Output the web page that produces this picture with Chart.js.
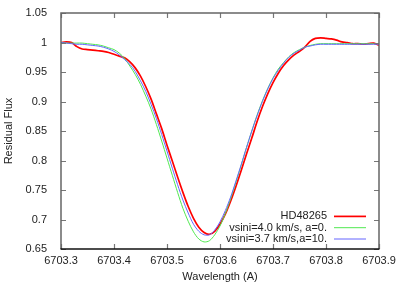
<!DOCTYPE html>
<html>
<head>
<meta charset="utf-8">
<script src="https://cdn.jsdelivr.net/npm/chart.js@4.4.1/dist/chart.umd.min.js"></script>
<style>
  html, body { margin: 0; padding: 0; background: #fff; }
  #wrap { width: 399px; height: 285px; }
</style>
</head>
<body>
<div id="wrap"><canvas id="line-chart"></canvas></div>
<script>
// wavelength grid (A)
const wavelength = [
  6703.30, 6703.31, 6703.32, 6703.33, 6703.34, 6703.35, 6703.36, 6703.37, 6703.38, 6703.39,
  6703.40, 6703.41, 6703.42, 6703.43, 6703.44, 6703.45, 6703.46, 6703.47, 6703.48, 6703.49,
  6703.50, 6703.51, 6703.52, 6703.53, 6703.54, 6703.55, 6703.56, 6703.57, 6703.58, 6703.59,
  6703.60, 6703.61, 6703.62, 6703.63, 6703.64, 6703.65, 6703.66, 6703.67, 6703.68, 6703.69,
  6703.70, 6703.71, 6703.72, 6703.73, 6703.74, 6703.75, 6703.76, 6703.77, 6703.78, 6703.79,
  6703.80, 6703.81, 6703.82, 6703.83, 6703.84, 6703.85, 6703.86, 6703.87, 6703.88, 6703.89,
  6703.90
];

// observed spectrum
const observed = [
  1.000, 1.001, 1.000, 0.993, 0.989, 0.988, 0.987, 0.986, 0.985, 0.983,
  0.980, 0.977, 0.974, 0.967, 0.957, 0.943, 0.925, 0.904, 0.879, 0.854,
  0.826, 0.799, 0.772, 0.746, 0.722, 0.702, 0.687, 0.678, 0.675, 0.680,
  0.692, 0.709, 0.731, 0.756, 0.783, 0.811, 0.838, 0.866, 0.891, 0.913,
  0.932, 0.948, 0.961, 0.971, 0.979, 0.985, 0.992, 1.002, 1.007, 1.008,
  1.007, 1.006, 1.004, 1.001, 1.000, 0.998, 0.998, 0.997, 0.998, 0.999,
  0.995
];

// model vsini=4.0, a=0
const model1 = [
  1.000, 0.999, 0.999, 0.999, 0.999, 0.998, 0.997, 0.996, 0.994, 0.991,
  0.988, 0.982, 0.973, 0.960, 0.946, 0.929, 0.909, 0.887, 0.861, 0.833,
  0.804, 0.775, 0.746, 0.719, 0.697, 0.679, 0.667, 0.662, 0.664, 0.674,
  0.689, 0.710, 0.735, 0.763, 0.792, 0.822, 0.850, 0.877, 0.901, 0.922,
  0.940, 0.955, 0.966, 0.976, 0.983, 0.988, 0.992, 0.995, 0.997, 0.998,
  0.998, 0.998, 0.998, 0.998, 0.998, 0.998, 0.998, 0.998, 0.998, 0.998,
  0.998
];

// model vsini=3.7, a=10
const model2 = [
  1.000, 0.999, 0.998, 0.997, 0.997, 0.996, 0.995, 0.994, 0.992, 0.989,
  0.985, 0.979, 0.971, 0.963, 0.951, 0.935, 0.917, 0.895, 0.871, 0.844,
  0.816, 0.787, 0.759, 0.733, 0.711, 0.692, 0.680, 0.674, 0.674, 0.682,
  0.696, 0.715, 0.738, 0.765, 0.793, 0.822, 0.850, 0.876, 0.900, 0.921,
  0.939, 0.953, 0.965, 0.975, 0.982, 0.987, 0.992, 0.994, 0.996, 0.997,
  0.997, 0.997, 0.997, 0.997, 0.997, 0.997, 0.997, 0.997, 0.997, 0.997,
  0.997
];

const seriesLabels = ["HD48265", "vsini=4.0 km/s, a=0.", "vsini=3.7 km/s,a=10."];

const FONT = "'Liberation Sans', Arial, Helvetica, sans-serif";

function points(ys) {
  return wavelength.map((w, i) => ({ x: w, y: ys[i] }));
}

// gnuplot style frame, inward mirrored ticks and key
const gnuplotFrame = {
  id: "gnuplotFrame",
  afterDraw(chart) {
    const { ctx, chartArea: a, scales } = chart;
    const x = scales.x, y = scales.y;
    ctx.save();
    ctx.lineWidth = 1.2;
    ctx.strokeStyle = "#777";
    ctx.beginPath();
    x.ticks.forEach(function (t) {
      const px = Math.round(x.getPixelForValue(t.value)) + 0.5;
      ctx.moveTo(px, a.bottom); ctx.lineTo(px, a.bottom - 5);
      ctx.moveTo(px, a.top); ctx.lineTo(px, a.top + 5);
    });
    y.ticks.forEach(function (t) {
      const py = Math.round(y.getPixelForValue(t.value)) + 0.5;
      ctx.moveTo(a.left, py); ctx.lineTo(a.left + 5, py);
      ctx.moveTo(a.right, py); ctx.lineTo(a.right - 5, py);
    });
    ctx.stroke();

    ctx.lineWidth = 1.5;
    ctx.strokeStyle = "#666";
    ctx.beginPath();
    ctx.moveTo(a.left, a.bottom); ctx.lineTo(a.left, a.top);
    ctx.lineTo(a.right, a.top); ctx.lineTo(a.right, a.bottom);
    ctx.stroke();
    ctx.strokeStyle = "#111";
    ctx.beginPath();
    ctx.moveTo(a.left - 0.5, a.bottom); ctx.lineTo(a.right + 0.5, a.bottom);
    ctx.stroke();

    // key
    const ds = chart.data.datasets;
    const lineEnd = a.right - 13;
    const lineStart = lineEnd - 32;
    ctx.font = "11px " + FONT;
    ctx.fillStyle = "#222";
    ctx.textAlign = "right";
    ctx.textBaseline = "middle";
    ds.forEach(function (d, i) {
      const rowY = a.bottom - 10 - (ds.length - 1 - i) * 11.3;
      ctx.fillText(d.label, lineStart - 7, rowY);
      ctx.strokeStyle = d.borderColor;
      ctx.lineWidth = d.borderWidth;
      ctx.beginPath();
      ctx.moveTo(lineStart, rowY); ctx.lineTo(lineEnd, rowY);
      ctx.stroke();
    });
    ctx.restore();
  },
};

new Chart(document.getElementById("line-chart"), {
  type: "line",
  data: {
    datasets: [
      { label: seriesLabels[0], data: points(observed), borderColor: "#ff0000", borderWidth: 1.7, order: 3 },
      { label: seriesLabels[1], data: points(model1), borderColor: "#4fe84f", borderWidth: 1, order: 2 },
      { label: seriesLabels[2], data: points(model2), borderColor: "#6464ff", borderWidth: 1, order: 1 },
    ],
  },
  options: {
    responsive: true,
    maintainAspectRatio: false,
    animation: false,
    layout: { padding: { top: 13, right: 20, left: 0, bottom: 0 } },
    elements: { point: { radius: 0 }, line: { tension: 0.3 } },
    plugins: {
      legend: { display: false },
      tooltip: { enabled: false },
    },
    scales: {
      x: {
        type: "linear",
        min: 6703.3,
        max: 6703.9,
        grid: { display: false },
        border: { display: false },
        ticks: {
          stepSize: 0.1,
          maxRotation: 0,
          padding: -3,
          color: "#222",
          font: { family: FONT, size: 11 },
          callback: (v) => v.toFixed(1),
        },
        title: {
          display: true,
          text: "Wavelength (A)",
          color: "#222",
          padding: { top: 0, bottom: 1 },
          font: { family: FONT, size: 11 },
        },
        afterFit: (s) => { s.height = 36; },
      },
      y: {
        min: 0.65,
        max: 1.05,
        grid: { display: false },
        border: { display: false },
        ticks: {
          stepSize: 0.05,
          padding: 6,
          color: "#222",
          font: { family: FONT, size: 11 },
          callback: (v) => String(parseFloat(v.toFixed(2))),
        },
        title: {
          display: true,
          text: "Residual Flux",
          color: "#222",
          padding: { top: 2, bottom: 0 },
          font: { family: FONT, size: 11 },
        },
        afterFit: (s) => { s.width = 61; },
      },
    },
  },
  plugins: [gnuplotFrame],
});
</script>
</body>
</html>
